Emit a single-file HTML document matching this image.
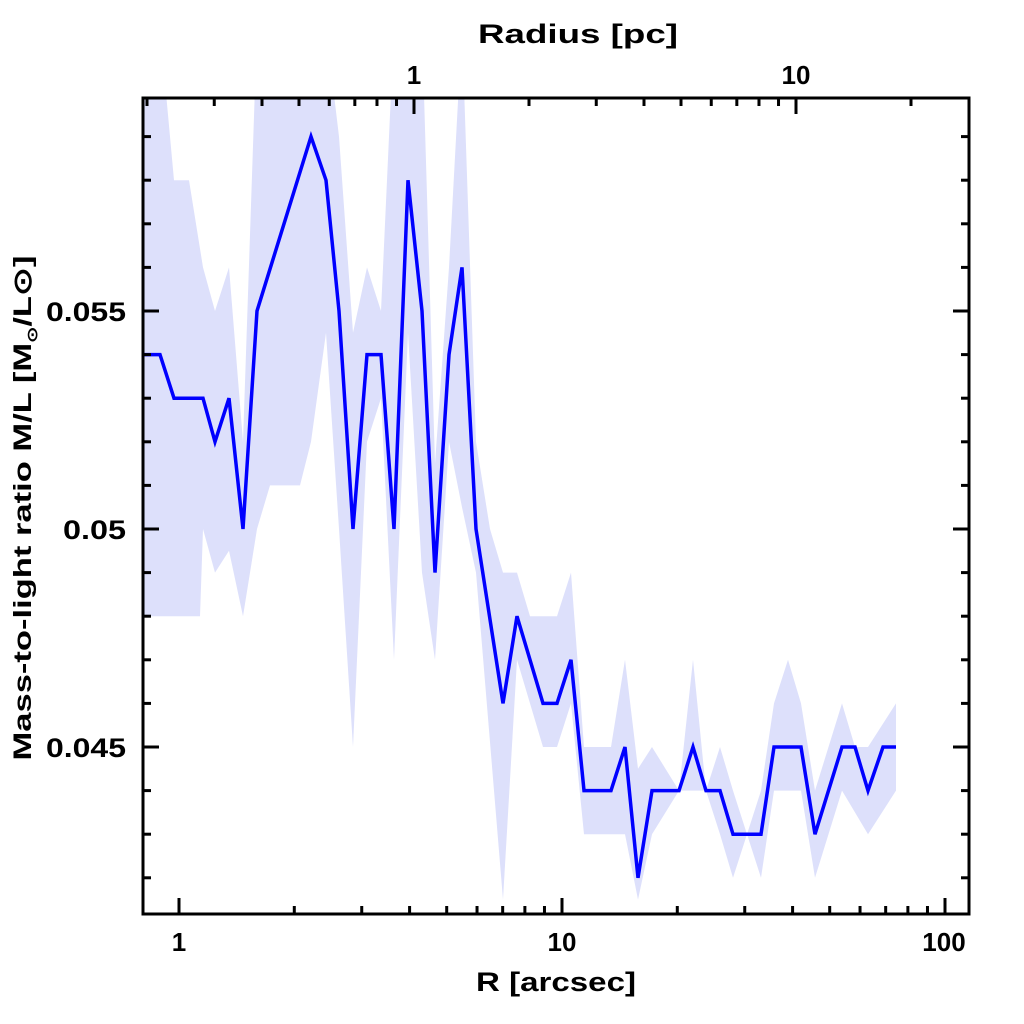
<!DOCTYPE html>
<html><head><meta charset="utf-8"><style>
html,body{margin:0;padding:0;background:#fff;}
svg{display:block;}
text{font-family:"Liberation Sans",sans-serif;font-weight:bold;fill:#000;}
</style></head><body>
<svg id="s" width="1024" height="1024" viewBox="0 0 1024 1024" xmlns="http://www.w3.org/2000/svg">
<defs><clipPath id="c"><rect x="143" y="98" width="826" height="816"/></clipPath></defs>
<g clip-path="url(#c)">
<path id="band" fill="#dde0fb" stroke="none"/>
<path id="line" fill="none" stroke="#0000ff" stroke-width="3.5" stroke-linejoin="miter"/>
</g>
<g id="ticks" stroke="#000" stroke-width="3"></g>
<rect x="143" y="98" width="826" height="816" fill="none" stroke="#000" stroke-width="3"/>
<text x="578" y="43" font-size="27" text-anchor="middle" textLength="200" lengthAdjust="spacingAndGlyphs">Radius [pc]</text>
<text x="414" y="84" font-size="26" text-anchor="middle">1</text>
<text x="796" y="84" font-size="26" text-anchor="middle">10</text>
<text x="179" y="951" font-size="26" text-anchor="middle">1</text>
<text x="562" y="951" font-size="26" text-anchor="middle">10</text>
<text x="944" y="951" font-size="26" text-anchor="middle">100</text>
<text x="556" y="991" font-size="27" text-anchor="middle" textLength="160" lengthAdjust="spacingAndGlyphs">R [arcsec]</text>
<text x="126" y="321" font-size="27" text-anchor="end" textLength="80" lengthAdjust="spacingAndGlyphs">0.055</text>
<text x="126" y="539" font-size="27" text-anchor="end" textLength="63" lengthAdjust="spacingAndGlyphs">0.05</text>
<text x="126" y="757" font-size="27" text-anchor="end" textLength="80" lengthAdjust="spacingAndGlyphs">0.045</text>
<text transform="translate(31,508) rotate(-90)" font-size="25" text-anchor="middle" textLength="505" lengthAdjust="spacingAndGlyphs">Mass-to-light ratio M/L [M<tspan font-size="14" dy="6">⊙</tspan><tspan dy="-6">/L⊙]</tspan></text>
</svg>
<script>
function Y(v){return 529-(v-0.05)*43600;}
var L=[[143,.054],[160,.054],[174,.053],[203,.053],[215,.052],[229,.053],[243,.050],[257,.055],[311,.059],[326,.058],[339,.055],[353,.050],[367,.054],[381,.054],[394,.050],[408,.058],[422,.055],[435,.049],[449,.054],[462,.056],[476,.050],[503,.046],[517,.048],[543,.046],[557,.046],[571,.047],[584,.044],[611,.044],[625,.045],[638,.042],[652,.044],[679,.044],[693,.045],[706,.044],[720,.044],[733,.043],[761,.043],[774,.045],[801,.045],[815,.043],[842,.045],[855,.045],[868,.044],[883,.045],[896,.045]];
var U=[[143,.0615],[160,.0615],[174,.058],[189,.058],[203,.056],[215,.055],[229,.056],[243,.052],[257,.0615],[326,.0615],[339,.059],[353,.0545],[367,.056],[381,.055],[394,.0615],[422,.0615],[435,.0515],[449,.056],[462,.0615],[476,.052],[490,.050],[503,.049],[517,.049],[530,.048],[557,.048],[571,.049],[584,.045],[611,.045],[625,.047],[638,.0445],[652,.045],[679,.044],[693,.047],[706,.044],[720,.045],[733,.044],[747,.043],[761,.044],[774,.046],[788,.047],[801,.046],[815,.044],[842,.046],[855,.045],[868,.045],[896,.046]];
var D=[[143,.048],[200,.048],[203,.050],[215,.049],[229,.0495],[243,.048],[257,.050],[270,.051],[300,.051],[311,.052],[326,.0545],[339,.050],[353,.045],[367,.052],[381,.053],[394,.047],[408,.0545],[422,.049],[435,.047],[449,.052],[462,.0505],[476,.049],[503,.0415],[517,.047],[543,.045],[557,.045],[571,.046],[584,.043],[611,.043],[625,.043],[638,.0415],[652,.043],[679,.044],[693,.044],[706,.044],[720,.043],[733,.042],[747,.043],[761,.042],[774,.044],[801,.044],[815,.042],[842,.044],[868,.043],[896,.044]];
function pts(a){return a.map(function(p){return p[0]+","+Y(p[1]).toFixed(1);});}
document.getElementById("line").setAttribute("d","M"+pts(L).join("L"));
document.getElementById("band").setAttribute("d","M"+pts(U).join("L")+"L"+pts(D.slice().reverse()).join("L")+"Z");
var t="";
function ln(x1,y1,x2,y2){t+='<line x1="'+x1+'" y1="'+y1+'" x2="'+x2+'" y2="'+y2+'"/>';}
for(var v=0.042;v<=0.0595;v+=0.001){var y=Y(v).toFixed(1);var r=Math.round(v*1000);var big=(r%5==0);var l=big?16:8;ln(143,y,143+l,y);ln(969,y,969-l,y);}
for(var d=0;d<3;d++)for(var k=1;k<10;k++){var x=179+383*(d+Math.log10(k));if(x<143||x>969)continue;var l=k==1?16:8;ln(x,914,x,914-l);}
for(var d=-1;d<2;d++)for(var k=1;k<10;k++){var x=414+382*(d+Math.log10(k));if(x<143||x>969)continue;var l=k==1?16:8;ln(x,98,x,98+l);}
document.getElementById("ticks").innerHTML=t;
</script>
</body></html>
